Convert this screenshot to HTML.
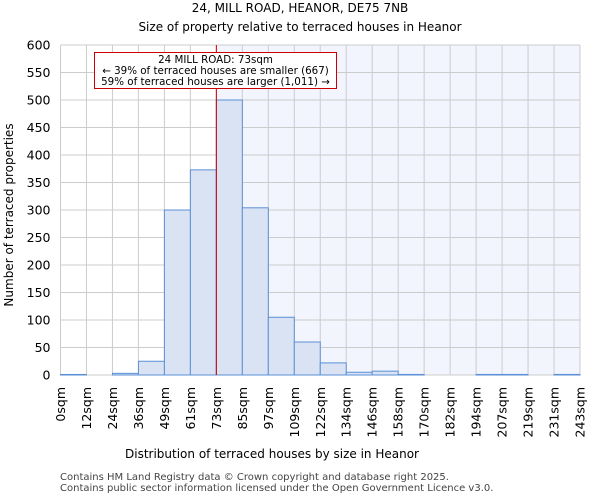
<!DOCTYPE html>
<html><head><meta charset="utf-8"><style>
body{margin:0;background:#fff;font-family:"DejaVu Sans","Liberation Sans",sans-serif;}
</style></head><body>
<svg width="600" height="500" xmlns="http://www.w3.org/2000/svg" font-family="DejaVu Sans, Liberation Sans, sans-serif">
<text x="300" y="12" text-anchor="middle" font-size="12">24, MILL ROAD, HEANOR, DE75 7NB</text>
<text x="300" y="31" text-anchor="middle" font-size="12">Size of property relative to terraced houses in Heanor</text>
<g id="plot"></g>
<text x="272" y="458" text-anchor="middle" font-size="12">Distribution of terraced houses by size in Heanor</text>
<text transform="translate(13,215) rotate(-90)" text-anchor="middle" font-size="12">Number of terraced properties</text>
<text x="60" y="480" font-size="10" fill="#444">Contains HM Land Registry data © Crown copyright and database right 2025.</text>
<text x="60" y="491" font-size="10" fill="#444">Contains public sector information licensed under the Open Government Licence v3.0.</text>
</svg>
<script>
const categories=["0sqm","12sqm","24sqm","36sqm","49sqm","61sqm","73sqm","85sqm","97sqm","109sqm","122sqm","134sqm","146sqm","158sqm","170sqm","182sqm","194sqm","207sqm","219sqm","231sqm","243sqm"];
const counts=[1,0,3,25,300,373,500,304,105,60,22,5,7,1,0,0,1,1,0,1];
const yTicks=[0,50,100,150,200,250,300,350,400,450,500,550,600];
const markerIndex=6;
const NS="http://www.w3.org/2000/svg";
const g=document.getElementById('plot');
const x0=60.5,x1=580,y0=375,y1=45,yMax=600;
const bw=(x1-x0)/counts.length;
const xs=i=>x0+i*bw;
const ys=v=>y0-(v/yMax)*(y0-y1);
function mk(t,a){const e=document.createElementNS(NS,t);for(const k in a)e.setAttribute(k,a[k]);g.appendChild(e);return e;}
let r=mk('rect',{x:xs(markerIndex),y:y1,width:x1-xs(markerIndex),height:y0-y1,fill:'#f2f5fd'});


for(let i=0;i<=categories.length-1;i++){const l=mk('line',{x1:xs(i),x2:xs(i),y1:y1,y2:y0,stroke:'#cccccc','stroke-width':1});

}
yTicks.forEach(v=>{const l=mk('line',{x1:x0,x2:x1,y1:ys(v),y2:ys(v),stroke:'#cccccc','stroke-width':1});


const t=mk('text',{x:x0-10,y:ys(v)+4.5,'text-anchor':'end','font-size':12.5});t.textContent=v;

});
counts.forEach((c,i)=>{const b=mk('rect',{x:xs(i),y:ys(c),width:bw,height:y0-ys(c),fill:'#dae3f3',stroke:'#5b8fd6','stroke-width':1});

});
categories.forEach((c,i)=>{const t=mk('text',{transform:`translate(${xs(i)+4.5},387) rotate(-90)`,'text-anchor':'end','font-size':12.5});t.textContent=c;

});
const ml=mk('line',{x1:xs(markerIndex),x2:xs(markerIndex),y1:y1,y2:y0,stroke:'#cc0000','stroke-width':1});


const box=mk('rect',{x:94.5,y:52.5,width:242,height:36,fill:'#fff',stroke:'#cc0000','stroke-width':1});


[["24 MILL ROAD: 73sqm",63],["← 39% of terraced houses are smaller (667)",74],["59% of terraced houses are larger (1,011) →",85]].forEach(([s,y])=>{const t=mk('text',{x:215.5,y:y,'text-anchor':'middle','font-size':10.3});t.textContent=s;

});
</script>
</body></html>
